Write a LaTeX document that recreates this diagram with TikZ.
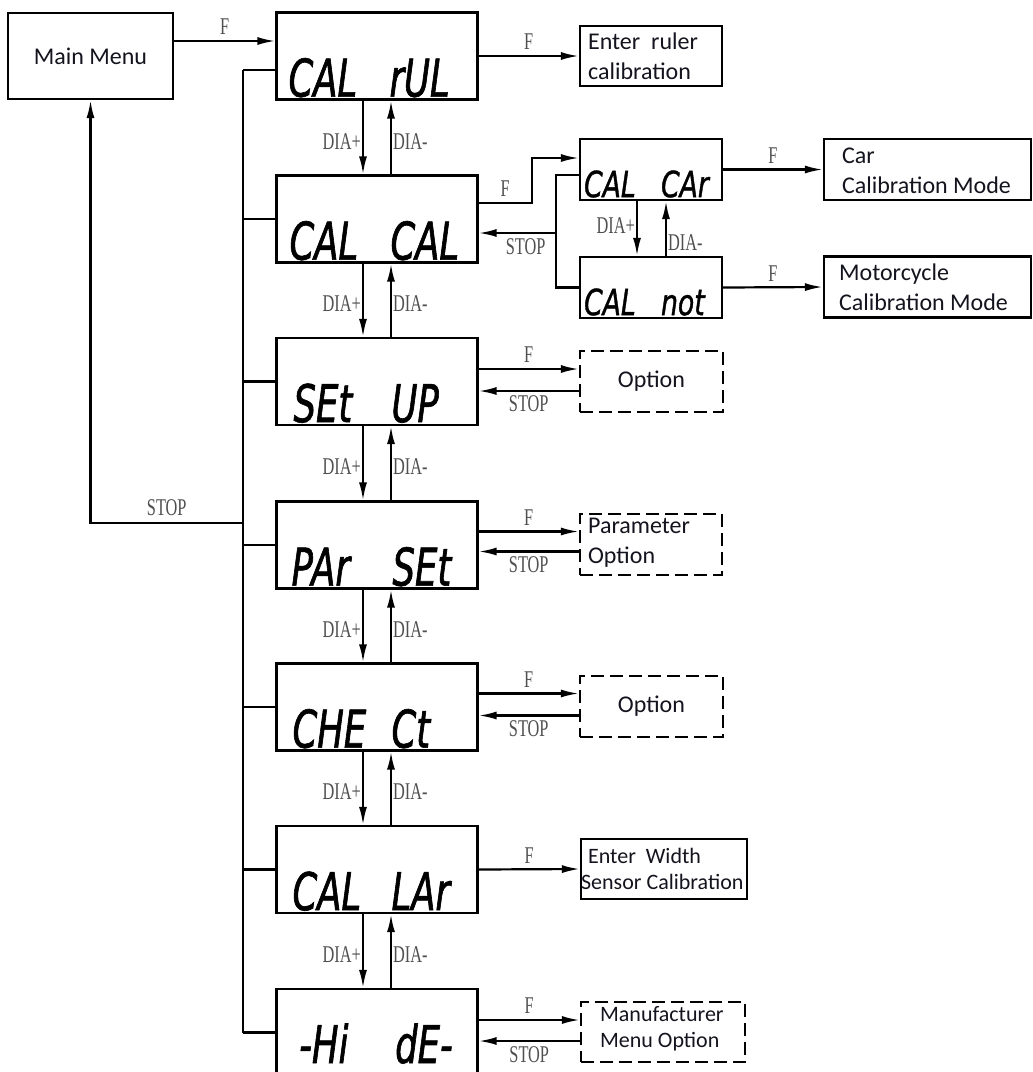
\documentclass[tikz,border=0pt]{standalone}
\usepackage{fontspec}
\setmainfont{Carlito}
\newfontfamily\lblfont{Liberation Serif}[FakeStretch=0.68]
\newfontfamily\lcdfont{DejaVu Sans}[FakeStretch=0.68,FakeBold=1.2]
\newfontfamily\lcdsfont{DejaVu Sans}[FakeStretch=0.74,FakeBold=1]
\usetikzlibrary{arrows.meta,calc}
\definecolor{lblgray}{RGB}{80,80,80}
\definecolor{txt}{RGB}{20,20,30}
\newcommand\lcdpair[3]{\makebox[#1][l]{#2 }#3}
\begin{document}
\begin{tikzpicture}[x=1pt,y=-1pt,
  wire/.style={line width=2.2pt},
  arr/.style={wire,-{Latex[length=18pt,width=8pt]}},
  frame/.style={draw,line width=2.2pt,inner sep=0pt,rectangle},
  lcdbox/.style={frame,minimum width=201pt,minimum height=87pt},
  smlcd/.style={frame,minimum width=142pt,minimum height=61pt},
  dbox/.style={frame,dash pattern=on 13pt off 6pt},
  lcd/.style={anchor=base west,inner sep=0pt,font=\lcdfont\itshape\fontsize{52}{52}\selectfont},
  lcds/.style={anchor=base west,inner sep=0pt,font=\lcdsfont\itshape\fontsize{36}{36}\selectfont},
  lbl/.style={text=lblgray,font=\lblfont\fontsize{24}{24}\selectfont,inner sep=1pt},
  big/.style={text=txt,inner sep=0pt,align=left,font=\fontsize{24}{30}\selectfont},
  sml/.style={text=txt,inner sep=0pt,align=left,font=\fontsize{22}{26}\selectfont},
]
\clip (0,0) rectangle (1033,1072);
\fill[white] (0,0) rectangle (1033,1072);

% main menu
\node[frame,minimum width=165pt,minimum height=86pt] (main) at (90.5,56) {};
\node[big] (maint) at (main.center) {Main Menu};

% LCD column
\node[lcdbox] (b1) at (377,56) {};
\node[lcdbox] (b2) at (377,219) {};
\node[lcdbox] (b3) at (377,381.5) {};
\node[lcdbox] (b4) at (377,545) {};
\node[lcdbox] (b5) at (377,707) {};
\node[lcdbox] (b6) at (377,869.5) {};
\node[lcdbox] (b7) at (377,1032.5) {};
\node[lcd] (t1) at ($(b1.south west)+(13,-4)$) {\lcdpair{101pt}{CAL}{rUL}};
\node[lcd] (t2) at ($(b2.south west)+(14,-4)$) {\lcdpair{101pt}{CAL}{CAL}};
\node[lcd] (t3) at ($(b3.south west)+(18,-4)$) {\lcdpair{98pt}{SEt}{UP}};
\node[lcd] (t4) at ($(b4.south west)+(16,-4)$) {\lcdpair{101pt}{PAr}{SEt}};
\node[lcd] (t5) at ($(b5.south west)+(17,-4)$) {\lcdpair{99pt}{CHE}{Ct}};
\node[lcd] (t6) at ($(b6.south west)+(17,-4)$) {\lcdpair{99pt}{CAL}{LAr}};
\node[lcd] (t7) at (299,1063) {\lcdpair{96pt}{-Hi}{dE-}};

% side boxes
\node[frame,minimum width=142pt,minimum height=60pt] (r1) at (651,56) {};
\node[big,anchor=west] (r1t) at ($(r1.west)+(9,0)$) {Enter\ \ ruler\\calibration};

\node[smlcd] (car) at (651,169.5) {};
\node[lcds] (tcar) at ($(car.south west)+(5,-4)$) {\lcdpair{77pt}{CAL}{CAr}};
\node[smlcd] (cnot) at (651,287.5) {};
\node[lcds] (tnot) at ($(cnot.south west)+(5,-4)$) {\lcdpair{77pt}{CAL}{not}};

\node[frame,minimum width=207pt,minimum height=61pt] (carm) at (927.5,169.5) {};
\node[big,anchor=west] (carmt) at ($(carm.west)+(19,1)$) {Car\\Calibration Mode};
\node[frame,minimum width=207pt,minimum height=61pt] (moto) at (927.5,287) {};
\node[big,anchor=west] (motot) at ($(moto.west)+(16,0)$) {Motorcycle\\Calibration Mode};

\node[dbox,minimum width=143pt,minimum height=61pt] (o3) at (651.5,381.5) {};
\node[big] (o3t) at (o3.center) {Option};
\node[dbox,minimum width=142pt,minimum height=61pt] (o4) at (651,544.5) {};
\node[big,anchor=west] (o4t) at ($(o4.west)+(9,-2)$) {Parameter\\Option};
\node[dbox,minimum width=143pt,minimum height=61pt] (o5) at (651.5,706.5) {};
\node[big] (o5t) at (o5.center) {Option};
\node[frame,minimum width=166pt,minimum height=60pt] (w6) at (664,869) {};
\node[sml,anchor=west] (w6t) at ($(w6.west)+(1,0)$) {\hspace*{7pt}Enter\ \ Width\\Sensor Calibration};
\node[dbox,minimum width=164pt,minimum height=60pt] (m7) at (663,1032) {};
\node[sml,anchor=west] (m7t) at ($(m7.west)+(20,-3)$) {Manufacturer\\Menu Option};

% main F and STOP
\draw[arr] ($(main.east)+(0,-15)$) -- node[lbl,above=4pt]{F} ($(b1.west)+(0,-15)$);
\coordinate (bt) at (243,70);
\coordinate (sj) at (243,523);
\draw[wire] (bt) -- (bt -| b1.west);
\draw[wire] (bt) -- (bt |- b7.west);
\foreach \b in {b2,b3,b4,b5,b6,b7} \draw[wire] (\b.west) -- (\b.west -| bt);
\draw[arr] (sj) -- node[lbl,above=5pt]{STOP} (sj -| main.south) -- (main.south);

% DIA arrows in the main column
\coordinate (xp) at (363,0);
\coordinate (xm) at (391,0);
\foreach \a/\b in {b1/b2,b2/b3,b3/b4,b4/b5,b5/b6,b6/b7}{
  \draw[arr] (\a.south -| xp) -- node[lbl,left,pos=0.55]{DIA+} (\b.north -| xp);
  \draw[arr] (\b.north -| xm) -- node[lbl,right,pos=0.45]{DIA-} (\a.south -| xm);
}

% right side connectors
\draw[arr] (b1.east) -- node[lbl,above=4pt]{F} (r1.west);

\draw[arr] ($(b2.east)+(0,-16)$) -- node[lbl,above=4pt]{F} ++(53,0) |- ($(car.west)+(0,-11.5)$);
\coordinate (stp) at (557,233);
\draw[wire] ($(car.west)+(0,5.5)$) -- ++(-23,0) |- (cnot.west);
\draw[arr] (stp) -- node[lbl,below=4pt,pos=0.4]{STOP} (stp -| b2.east);
\coordinate (xp2) at (637,0);
\coordinate (xm2) at (666,0);
\draw[arr] (car.south -| xp2) -- node[lbl,left,pos=0.45]{DIA+} (cnot.north -| xp2);
\draw[arr] (cnot.north -| xm2) -- node[lbl,right,pos=0.25]{DIA-} (car.south -| xm2);
\draw[arr] (car.east) -- node[lbl,above=4pt]{F} (carm.west);
\draw[arr] (cnot.east) -- node[lbl,above=4pt]{F} (moto.west);

\draw[arr] ($(b3.east)+(0,-12.5)$) -- node[lbl,above=4pt]{F} ($(o3.west)+(0,-12.5)$);
\draw[arr] ($(o3.west)+(0,9.5)$) -- node[lbl,below=3pt]{STOP} ($(b3.east)+(0,9.5)$);
\draw[arr] ($(b4.east)+(0,-13.5)$) -- node[lbl,above=4pt]{F} ($(o4.west |- b4.east)+(0,-13.5)$);
\draw[arr] ($(o4.west |- b4.east)+(0,6.5)$) -- node[lbl,below=3pt]{STOP} ($(b4.east)+(0,6.5)$);
\draw[arr] ($(b5.east)+(0,-13.5)$) -- node[lbl,above=4pt]{F} ($(o5.west |- b5.east)+(0,-13.5)$);
\draw[arr] ($(o5.west |- b5.east)+(0,8.5)$) -- node[lbl,below=3pt]{STOP} ($(b5.east)+(0,8.5)$);
\draw[arr] (b6.east) -- node[lbl,above=4pt]{F} (w6.west);
\draw[arr] ($(b7.east)+(0,-12.5)$) -- node[lbl,above=4pt]{F} ($(m7.west |- b7.east)+(0,-12.5)$);
\draw[arr] ($(m7.west |- b7.east)+(0,8.5)$) -- node[lbl,below=3pt]{STOP} ($(b7.east)+(0,8.5)$);
\end{tikzpicture}
\end{document}
